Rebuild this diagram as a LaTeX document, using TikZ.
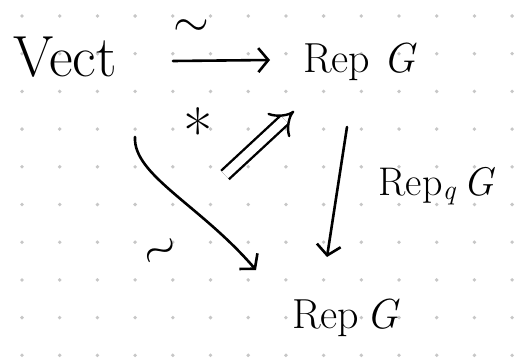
\documentclass[tikz,border=0pt]{standalone}
\usetikzlibrary{arrows.meta}
\begin{document}
\begin{tikzpicture}[x=1pt,y=-1pt,
  lbl/.style={inner sep=0pt, font=\fontsize{58}{62}\selectfont},
  lblm/.style={inner sep=0pt, font=\fontsize{42}{46}\selectfont},
  lbls/.style={inner sep=0pt, font=\fontsize{40}{44}\selectfont},
  sym/.style={inner sep=0pt, font=\fontsize{64}{68}\selectfont},
  tilde/.style={inner sep=0pt},
  arr/.style={line width=2.6pt, line cap=round, -{Straight Barb[length=10pt,width=24pt,line width=2.6pt]}},
  dot/.style={fill=black!22},
]
\useasboundingbox (0,0) rectangle (522,361);
\fill[white] (0,0) rectangle (522,361);
\foreach \i in {0,...,13} \foreach \j in {0,...,9} \fill[dot] (22+37.7*\i, 16+37.7*\j) circle (1.9);

\node[lbl] (vect) at (65,57) {Vect};
\node[lblm] (rep1) at (360,62) {Rep \textit{G}};
\node[lbls] (repq) at (437,186) {Rep\textsubscript{\textit{q}}\,\textit{G}};
\node[lblm] (rep2) at (346,318) {Rep\,\textit{G}};

\coordinate (h1) at (173,61);
\coordinate (h2) at (270,60);
\draw[arr] (h1) -- (h2);
\node[tilde] (tl1) at (191,28) {\scalebox{4.6}{$\sim$}};

\coordinate (d1) at (225,175);
\coordinate (d2) at (294,111);
\draw[line width=2.4pt, double distance=9pt, -{Implies[length=11pt]}] (d1) -- (d2);
\node[sym] (st) at (198,132) {*};

\coordinate (c1) at (135,137);
\coordinate (c2) at (256,270);
\draw[arr] (c1) .. controls (133,175) and (200,205) .. (c2);
\node[tilde, rotate=30] (tl2) at (162,253) {\scalebox{4.6}{$\sim$}};

\coordinate (v1) at (347,127);
\coordinate (v2) at (327,257);
\draw[arr] (v1) -- (v2);
\end{tikzpicture}
\end{document}
